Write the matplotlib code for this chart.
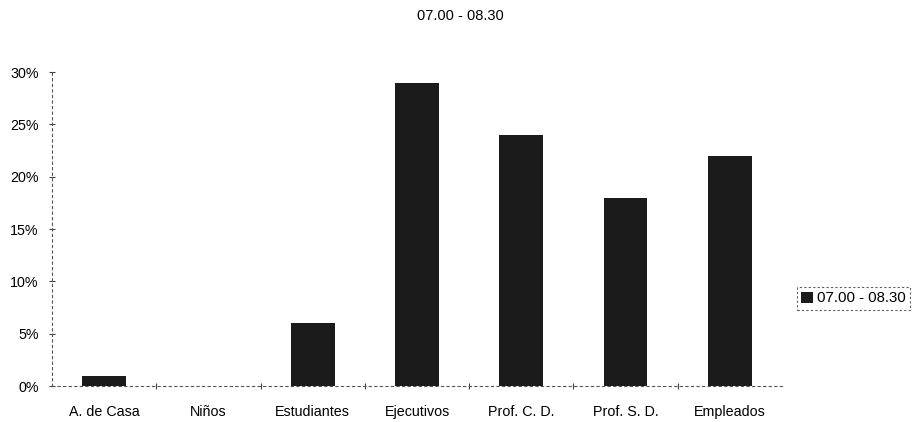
import matplotlib
matplotlib.use("Agg")
import matplotlib.pyplot as plt
from matplotlib.ticker import PercentFormatter, FixedLocator

categories = ["A. de Casa", "Niños", "Estudiantes", "Ejecutivos", "Prof. C. D.", "Prof. S. D.", "Empleados"]
values = [1, 0, 6, 29, 24, 18, 22]
series_name = "07.00 - 08.30"
yticks = [0, 5, 10, 15, 20, 25, 30]

plt.rcParams["font.family"] = ["Liberation Sans", "DejaVu Sans"]

fig = plt.figure(figsize=(9.24, 4.22), dpi=100)
ax = fig.add_axes([0.0563, 0.0853, 0.790, 0.744])

x = list(range(len(categories)))
ax.bar(x, values, width=0.42, color="#1b1b1b", label=series_name, zorder=3)

ax.set_xlim(-0.5, len(categories) - 0.5)
ax.set_ylim(0, 30)
ax.set_yticks(yticks)
ax.yaxis.set_major_formatter(PercentFormatter(decimals=0))
ax.set_xticks(x)
ax.set_xticklabels(categories, fontsize=10.3)
ax.xaxis.set_minor_locator(FixedLocator([i + 0.5 for i in x[:-1]]))
ax.tick_params(axis="y", labelsize=10.3, direction="inout", length=5, width=0.8,
               color="#444444", pad=7)
ax.tick_params(axis="x", which="major", length=0, pad=14)
ax.tick_params(axis="x", which="minor", direction="inout", length=5, width=0.8,
               color="#444444")

for side in ["top", "right"]:
    ax.spines[side].set_visible(False)
for side in ["left", "bottom"]:
    ax.spines[side].set_linestyle((0, (2, 3)))
    ax.spines[side].set_linewidth(0.8)
    ax.spines[side].set_color("#555555")

fig.text(0.498, 0.962, series_name, ha="center", va="center", fontsize=10.5)

leg = ax.legend(loc="center left", bbox_to_anchor=(1.0205, 0.279), frameon=True,
                fontsize=10.8, handlelength=0.75, handleheight=0.75, handletextpad=0.3,
                borderpad=0.3, borderaxespad=0, fancybox=False)
leg.get_frame().set_edgecolor("#333333")
leg.get_frame().set_linestyle((0, (2, 2)))
leg.get_frame().set_linewidth(0.8)

fig.savefig("out.png", dpi=100)
